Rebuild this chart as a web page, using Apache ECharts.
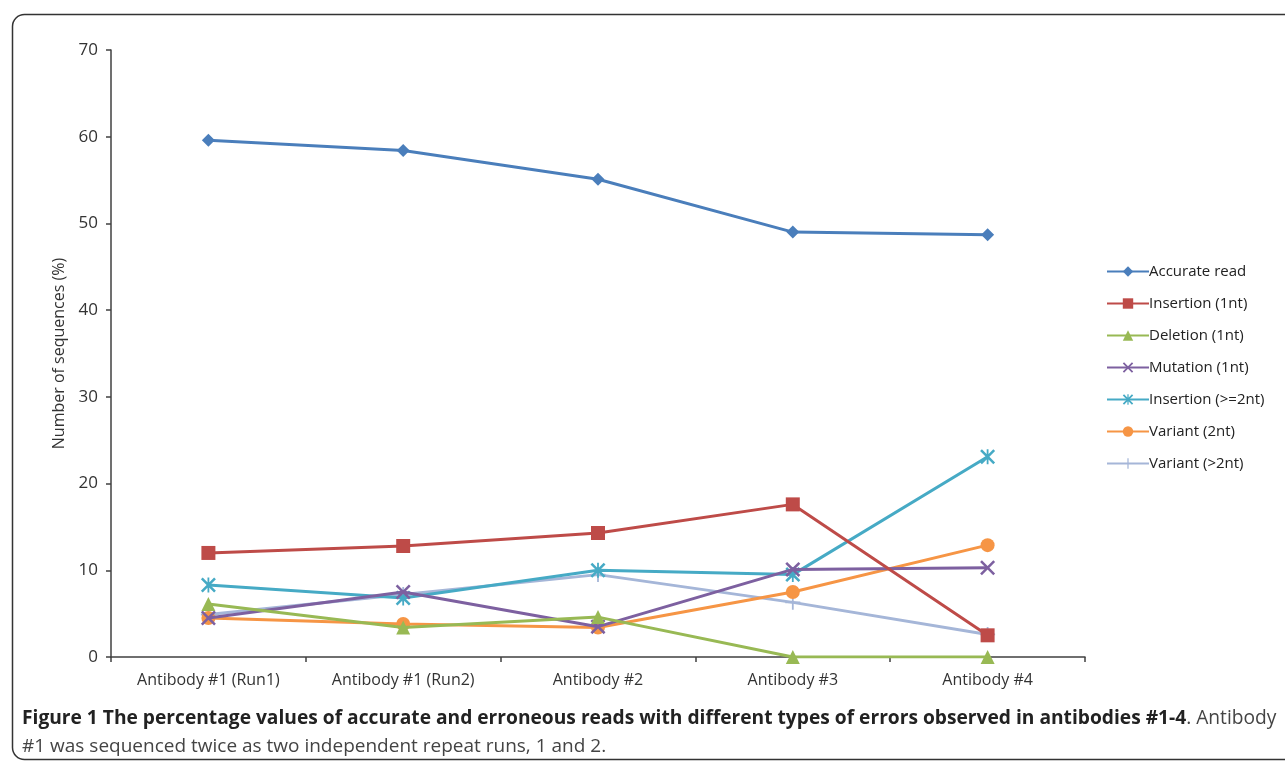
<!DOCTYPE html>
<html>
<head>
<meta charset="utf-8">
<script src="https://cdn.jsdelivr.net/npm/echarts@6/dist/echarts.min.js"></script>
<style>
html,body{margin:0;padding:0;background:#fff;}
#chart{width:1285px;height:766px;}
</style>
</head>
<body>
<div id="chart"></div>
<script>
const categories = ['Antibody #1 (Run1)', 'Antibody #1 (Run2)', 'Antibody #2', 'Antibody #3', 'Antibody #4'];
const yTicks = [0, 10, 20, 30, 40, 50, 60, 70];
const accurateRead = [59.6, 58.4, 55.1, 49.0, 48.7];
const insertion1nt = [12.0, 12.8, 14.3, 17.6, 2.5];
const deletion1nt = [6.1, 3.4, 4.6, 0, 0];
const mutation1nt = [4.5, 7.5, 3.5, 10.1, 10.3];
const insertion2ntPlus = [8.3, 6.8, 10.0, 9.5, 23.1];
const variant2nt = [4.5, 3.8, 3.4, 7.5, 12.9];
const variantOver2nt = [4.9, 7.2, 9.5, 6.3, 2.6];
const seriesNames = ['Accurate read', 'Insertion (1nt)', 'Deletion (1nt)', 'Mutation (1nt)', 'Insertion (>=2nt)', 'Variant (2nt)', 'Variant (>2nt)'];
const captionBold = 'Figure 1 The percentage values of accurate and erroneous reads with different types of errors observed in antibodies #1-4';
const captionRest1 = '. Antibody';
const captionLine2 = '#1 was sequenced twice as two independent repeat runs, 1 and 2.';

const xPath = 'path://M0,1.2 L1.2,0 L5,3.8 L8.8,0 L10,1.2 L6.2,5 L10,8.8 L8.8,10 L5,6.2 L1.2,10 L0,8.8 L3.8,5 Z';
const starPath = 'path://M0,1.2 L1.2,0 L5,3.8 L8.8,0 L10,1.2 L6.2,5 L10,8.8 L8.8,10 L5,6.2 L1.2,10 L0,8.8 L3.8,5 Z M4.4,0 L5.6,0 L5.6,10 L4.4,10 Z';
const plusPath = 'path://M4.4,0 L5.6,0 L5.6,4.4 L10,4.4 L10,5.6 L5.6,5.6 L5.6,10 L4.4,10 L4.4,5.6 L0,5.6 L0,4.4 L4.4,4.4 Z';

const dataList = [accurateRead, insertion1nt, deletion1nt, mutation1nt, insertion2ntPlus, variant2nt, variantOver2nt];
const colors = ['#4a7ebb', '#be4b48', '#98b954', '#7d60a0', '#46aac5', '#f69545', '#a5b6d8'];
const symbols = ['diamond', 'rect', 'triangle', xPath, starPath, 'circle', plusPath];
const sizes = [13, 14, 14, 15, 15, 14, 15];

const chart = echarts.init(document.getElementById('chart'));
const font = '"Open Sans", "DejaVu Sans", sans-serif';

const series = seriesNames.map((name, i) => ({
  name: name,
  type: 'line',
  data: dataList[i],
  symbol: symbols[i],
  symbolSize: sizes[i],
  showAllSymbol: true,
  z: 10 - i,
  lineStyle: { color: colors[i], width: 3 },
  itemStyle: { color: colors[i] }
}));

chart.setOption({
  animation: false,
  backgroundColor: '#fff',
  color: colors,
  grid: { left: 111, right: 200, top: 50, bottom: 109, containLabel: false },
  xAxis: {
    type: 'category',
    data: categories,
    boundaryGap: true,
    axisLine: { lineStyle: { color: '#404040', width: 1.5 } },
    axisTick: { show: true, inside: false, length: 5, lineStyle: { color: '#404040', width: 1.5 } },
    axisLabel: { color: '#333', fontSize: 16, fontFamily: font, margin: 15 }
  },
  yAxis: {
    type: 'value',
    min: 0, max: 70, interval: 10,
    name: 'Number of sequences (%)',
    nameLocation: 'middle',
    nameGap: 40,
    nameRotate: 90,
    nameTextStyle: { color: '#333', fontSize: 16, fontFamily: font },
    axisLine: { show: true, lineStyle: { color: '#404040', width: 1.5 } },
    axisTick: { show: true, inside: false, length: 5, lineStyle: { color: '#404040', width: 1.5 } },
    splitLine: { show: false },
    axisLabel: { color: '#333', fontSize: 17, fontFamily: font, margin: 13,
      formatter: v => yTicks.indexOf(v) >= 0 ? String(v) : '' }
  },
  legend: {
    orient: 'vertical',
    left: 1101,
    top: 259,
    itemGap: 17,
    itemWidth: 42,
    itemHeight: 13,
    data: seriesNames,
    textStyle: { color: '#222', fontSize: 15, fontFamily: font, padding: [0, 0, 0, -5] }
  },
  graphic: [
    { type: 'rect', left: 10, top: 12, z: -1,
      shape: { width: 1300, height: 745, r: 12 },
      style: { fill: 'none', stroke: '#333', lineWidth: 1.5 } },
    { type: 'text', left: 22, top: 709,
      style: {
        text: '{b|' + captionBold + '}{n|' + captionRest1 + '}',
        rich: {
          b: { fontFamily: font, fontWeight: 'bold', fontSize: 19.2, fill: '#222' },
          n: { fontFamily: font, fontSize: 19.2, fill: '#444' }
        }
      } },
    { type: 'text', left: 22, top: 737,
      style: { text: captionLine2, fontFamily: font, fontSize: 19, fill: '#444' } }
  ],
  series: series
});
</script>
</body>
</html>
